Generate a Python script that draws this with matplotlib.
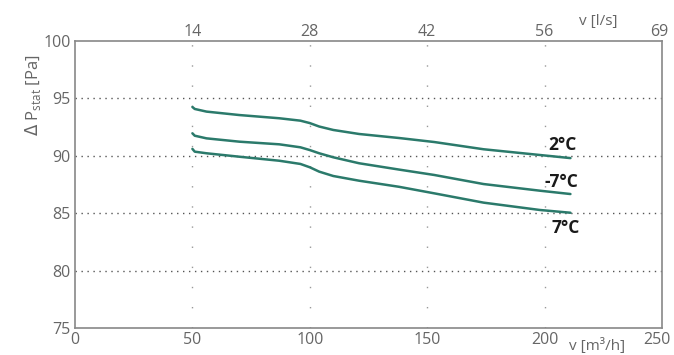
import matplotlib
matplotlib.use("Agg")
import matplotlib.pyplot as plt
import matplotlib.transforms as mtransforms

plt.rcParams['font.family'] = ['Open Sans', 'DejaVu Sans']

flow = [50, 51, 56, 70, 87, 96, 100, 104, 110, 121, 138, 153, 174, 198, 211]
p_2c = [94.25, 94.08, 93.85, 93.55, 93.27, 93.06, 92.85, 92.55, 92.25, 91.9, 91.55, 91.2, 90.57, 90.07, 89.8]
p_m7c = [91.96, 91.75, 91.52, 91.23, 91.0, 90.74, 90.5, 90.22, 89.87, 89.35, 88.8, 88.33, 87.54, 86.96, 86.67]
p_7c = [90.6, 90.36, 90.22, 89.92, 89.57, 89.29, 89.0, 88.62, 88.24, 87.83, 87.3, 86.73, 85.92, 85.28, 85.04]

series = [("2°C", p_2c), ("-7°C", p_m7c), ("7°C", p_7c)]
label_pos = {"2°C": (201.5, 90.95), "-7°C": (200.0, 87.7), "7°C": (203.0, 83.7)}

x_ticks = [0, 50, 100, 150, 200, 250]
y_ticks = [75, 80, 85, 90, 95, 100]
top_ticks = [50, 100, 150, 200, 250]
top_labels = ["14", "28", "42", "56", "69"]

line_color = "#2b7a6b"
grey = "#666666"

fig = plt.figure(figsize=(6.74, 3.55), dpi=100)
ax = fig.add_axes([75/674, 1 - 328/355, (662-75)/674, (328-41)/355])

ax.set_xlim(0, 250)
ax.set_ylim(75, 100)

for yv in [80, 85, 90, 95]:
    ax.axhline(yv, color="#555555", lw=1.0, linestyle=(0, (1, 3.3)), zorder=1)
for xv in [50, 100, 150, 200]:
    ax.axvline(xv, color="#999999", lw=1.0, linestyle=(0, (1, 13.5)), zorder=1)

for name, vals in series:
    ax.plot(flow, vals, color=line_color, lw=1.8, zorder=3,
            solid_capstyle='round', solid_joinstyle='round')
    lx, ly = label_pos[name]
    ax.text(lx, ly, name, fontsize=12.5, fontweight='bold', color="#1a1a1a",
            ha='left', va='center', zorder=4)

ax.set_xticks(x_ticks)
ax.set_yticks(y_ticks)
ax.tick_params(length=0, labelsize=11.5, labelcolor=grey, pad=3)
for s in ax.spines.values():
    s.set_color("#888888")
    s.set_linewidth(1.2)

# nudge the last bottom tick label inward so it stays inside the figure
last = ax.get_xticklabels()[-1]
last.set_transform(last.get_transform() +
                   mtransforms.ScaledTranslation(-5/100, 0, fig.dpi_scale_trans))

ax.set_ylabel(r'$\Delta$ P$_{\mathregular{stat}}$ [Pa]', fontsize=12, color=grey)
ax.yaxis.set_label_coords(-0.055, 0.81)

ax2 = ax.twiny()
ax2.set_xlim(0, 250)
ax2.set_xticks(top_ticks)
ax2.set_xticklabels(top_labels)
ax2.tick_params(length=0, labelsize=11.5, labelcolor=grey, pad=1)
for s in ax2.spines.values():
    s.set_visible(False)
last2 = ax2.get_xticklabels()[-1]
last2.set_transform(last2.get_transform() +
                    mtransforms.ScaledTranslation(-3/100, 0, fig.dpi_scale_trans))

fig.text(598/674, 1 - 21/355, "v [l/s]", fontsize=11, color=grey, ha='center', va='center')
fig.text(597/674, 1 - 346/355, "v [m³/h]", fontsize=11, color=grey, ha='center', va='center')

fig.savefig("out.png", dpi=100)
